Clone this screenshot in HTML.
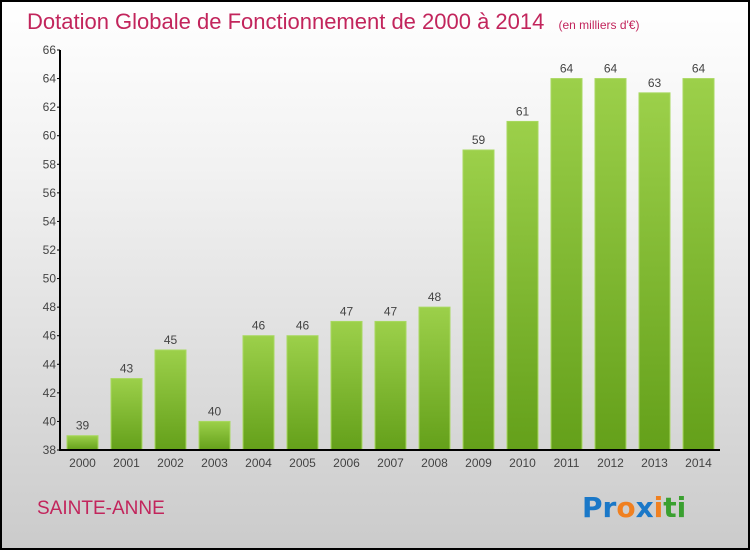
<!DOCTYPE html>
<html><head><meta charset="utf-8"><style>
body{margin:0}
#c{width:750px;height:550px;position:relative;box-sizing:border-box;border:2px solid #000;background:linear-gradient(#fff,#f2f2f2 30%,#cbcbcb);font-family:"Liberation Sans",sans-serif;overflow:hidden}
</style></head><body>
<div id="c">
<svg width="750" height="550" style="position:absolute;left:-2px;top:-2px">
<defs><linearGradient id="g" x1="0" y1="0" x2="0" y2="1"><stop offset="0" stop-color="#9cd04a"/><stop offset="1" stop-color="#64a01a"/></linearGradient></defs>
<text x="27" y="29" font-size="22" fill="#c2255c">Dotation Globale de Fonctionnement de 2000 à 2014 <tspan font-size="12" dx="8">(en milliers d'€)</tspan></text>
<g id="plot"></g>
<text x="37" y="514" font-size="19" fill="#c2255c">SAINTE-ANNE</text>
<text x="582" y="517" font-size="28" font-weight="bold" font-family="'DejaVu Sans',sans-serif"><tspan fill="#1a78c8">Pr</tspan><tspan fill="#f08020">o</tspan><tspan fill="#1a78c8">x</tspan><tspan fill="#f08020">i</tspan><tspan fill="#3aa030">ti</tspan></text>
</svg>
</div>
<script>
const years=["2000","2001","2002","2003","2004","2005","2006","2007","2008","2009","2010","2011","2012","2013","2014"];
const values=[39,43,45,40,46,46,47,47,48,59,61,64,64,63,64];
const yTicks=[38,40,42,44,46,48,50,52,54,56,58,60,62,64,66];
const ns="http://www.w3.org/2000/svg",g=document.getElementById('plot');
const y=v=>450-(v-38)*400/28, x=i=>67+i*44;
function el(t,a){const e=document.createElementNS(ns,t);for(const k in a)e.setAttribute(k,a[k]);g.appendChild(e);return e;}
values.forEach((v,i)=>{
 const r=el('rect',{x:x(i),y:y(v),width:31,height:450-y(v),fill:'url(#g)',stroke:'#a8d860','stroke-width':1});
 
 
 const t=el('text',{x:x(i)+15.5,y:y(v)-6,'text-anchor':'middle','font-size':12,fill:'#444'});t.textContent=v;
 
 
 const l=el('text',{x:x(i)+15.5,y:467,'text-anchor':'middle','font-size':12,fill:'#444'});l.textContent=years[i];
 
 
});
yTicks.forEach(v=>{
 el('line',{x1:57,x2:60,y1:y(v),y2:y(v),stroke:'#000'});
 const t=el('text',{x:56,y:y(v)+4,'text-anchor':'end','font-size':12,fill:'#444'});t.textContent=v;
 
 
});
const ya=el('line',{x1:60,x2:60,y1:50,y2:451,stroke:'#000','stroke-width':2});


const xa=el('line',{x1:59,x2:720,y1:450,y2:450,stroke:'#000','stroke-width':2});


</script>
</body></html>
